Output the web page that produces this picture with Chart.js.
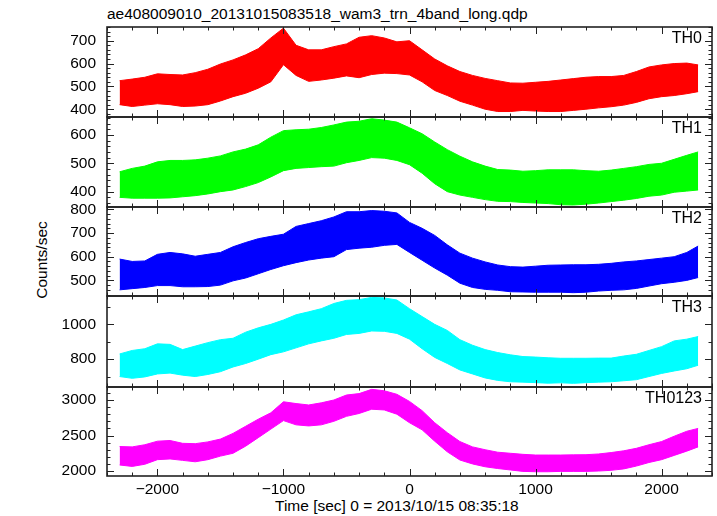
<!DOCTYPE html>
<html>
<head>
<meta charset="utf-8">
<script src="https://cdn.jsdelivr.net/npm/chart.js@4"></script>
<style>
  body { margin:0; background:#fff; width:717px; height:516px; position:relative; overflow:hidden;
         font-family:"Liberation Sans", Arial, sans-serif; color:#000; }
  canvas { position:absolute; left:0; }
  .t { position:absolute; white-space:nowrap; font-size:15.5px; line-height:15.5px; }
  .lab { position:absolute; white-space:nowrap; font-size:16px; line-height:16px; right:15px; }
</style>
</head>
<body>
<div class="t" style="left:107px;top:6px">ae408009010_20131015083518_wam3_trn_4band_long.qdp</div>
<div class="t" style="left:41.5px;top:260px;transform:translate(-50%,-50%) rotate(-90deg)">Counts/sec</div>
<div class="t" style="left:275px;top:498px">Time [sec] 0 = 2013/10/15 08:35:18</div>

<script>
// time bins (sec from 2013/10/15 08:35:18), envelope of each light curve
const times = [-2300,-2200,-2100,-2000,-1900,-1800,-1700,-1600,-1500,-1400,-1300,-1200,-1100,-1000,
  -900,-800,-700,-600,-500,-400,-300,-200,-100,0,100,200,300,400,500,600,700,800,900,1000,
  1100,1200,1300,1400,1500,1600,1700,1800,1900,2000,2100,2200,2290];

const th0Hi = [525,532,540,555,552,550,560,575,598,616,638,665,712,755,680,660,660,674,686,715,
  722,712,695,700,660,620,590,565,548,535,525,515,514,518,522,528,534,540,543,543,548,565,585,594,600,602,594];
const th0Lo = [420,412,418,424,420,412,414,420,436,455,470,492,520,595,548,522,528,536,546,538,
  552,558,556,550,520,482,460,435,418,400,390,390,395,392,390,390,395,400,406,411,418,430,446,455,460,468,477];

const th1Hi = [470,482,490,505,510,510,512,518,526,540,550,565,592,615,618,620,626,635,645,648,
  657,652,645,625,604,575,548,525,505,490,478,476,472,474,477,477,477,474,472,476,482,488,496,500,514,528,540];
const th1Lo = [380,377,377,377,378,382,386,392,400,406,418,432,452,474,482,485,488,490,502,510,
  520,518,510,495,465,428,400,388,380,372,366,365,362,360,358,354,353,356,360,365,370,376,384,388,398,402,406];

const th2Hi = [590,580,582,610,618,612,602,610,618,642,660,676,686,695,728,740,752,768,790,790,
  795,792,785,745,720,690,650,615,594,578,565,558,556,560,564,565,566,566,568,572,578,582,588,594,600,618,645];
const th2Lo = [460,465,470,478,478,473,473,474,480,498,510,528,546,562,575,586,594,600,630,636,
  640,648,652,618,585,552,522,488,470,462,458,452,451,450,450,450,448,450,455,458,460,466,476,486,492,500,512];

const th3Hi = [830,850,860,888,885,855,875,895,912,920,955,980,1000,1025,1055,1072,1090,1120,1138,1142,
  1155,1152,1140,1090,1045,1000,965,912,880,855,838,825,815,812,808,805,805,805,806,806,818,828,850,872,905,915,930];
const th3Lo = [700,690,698,715,720,708,700,712,728,755,775,800,826,842,865,888,905,920,942,948,
  962,960,948,915,860,810,775,738,715,692,678,670,668,665,662,664,661,665,668,670,676,682,700,718,732,745,765];

const thAllHi = [2345,2340,2370,2420,2430,2390,2385,2410,2450,2530,2630,2730,2820,2975,2950,2930,2960,3000,3070,3090,
  3150,3130,3080,2980,2850,2680,2540,2415,2340,2300,2265,2250,2235,2225,2225,2225,2228,2230,2240,2260,2285,2320,2370,2415,2490,2560,2600];
const thAllLo = [2085,2065,2095,2160,2170,2150,2130,2160,2210,2250,2350,2470,2590,2710,2650,2635,2650,2700,2770,2810,
  2870,2860,2800,2680,2580,2420,2270,2155,2100,2060,2035,2015,1995,1990,1990,1995,1995,1995,2000,2010,2030,2070,2120,2160,2220,2280,2340];

const bandNames = ["TH0","TH1","TH2","TH3","TH0123"];
const xTicks = [-2000,-1000,0,1000,2000];
const yTicks0 = [400,500,600,700];
const yTicks1 = [400,500,600];
const yTicks2 = [500,600,700,800];
const yTicks3 = [800,1000];
const yTicks4 = [2000,2500,3000];

const FONT = "'Liberation Sans', Arial, sans-serif";

// panel layout (pixels) and axis ranges
const panels = [
  { hi: th0Hi,   lo: th0Lo,   col: "#ff0000", ticks: yTicks0, min: 366,  max: 760,  minor: 20,  top: 27,  bot: 117 },
  { hi: th1Hi,   lo: th1Lo,   col: "#00ff00", ticks: yTicks1, min: 346,  max: 663,  minor: 20,  top: 117, bot: 207 },
  { hi: th2Hi,   lo: th2Lo,   col: "#0000ff", ticks: yTicks2, min: 434,  max: 810,  minor: 20,  top: 207, bot: 296 },
  { hi: th3Hi,   lo: th3Lo,   col: "#00ffff", ticks: yTicks3, min: 640,  max: 1163, minor: 100, top: 296, bot: 387 },
  { hi: thAllHi, lo: thAllLo, col: "#ff00ff", ticks: yTicks4, min: 1930, max: 3183, minor: 100, top: 387, bot: 476 },
];

// frame + inward tick marks on all four sides
const frameTicks = {
  id: "frameTicks",
  afterDatasetsDraw(chart, args, opts) {
    const { ctx, chartArea: a, scales: { x, y } } = chart;
    ctx.save();
    ctx.strokeStyle = "#222";
    ctx.lineWidth = 1;
    const seg = (x0, y0, x1, y1) => { ctx.beginPath(); ctx.moveTo(x0, y0); ctx.lineTo(x1, y1); ctx.stroke(); };
    for (let v = -2400; v <= 2400; v += 200) {
      const px = Math.round(x.getPixelForValue(v)) + 0.5;
      const len = v % 1000 === 0 ? 7 : 3.5;
      seg(px, a.top, px, a.top + len);
      seg(px, a.bottom, px, a.bottom - len);
    }
    for (let v = Math.ceil(y.min / opts.minor) * opts.minor; v <= y.max; v += opts.minor) {
      const py = Math.round(y.getPixelForValue(v)) + 0.5;
      const len = opts.major.includes(v) ? 7 : 3.5;
      seg(a.left, py, a.left + len, py);
      seg(a.right, py, a.right - len, py);
    }
    ctx.lineWidth = 1.6;
    ctx.strokeRect(a.left, a.top, a.right - a.left, a.bottom - a.top);
    ctx.restore();
  }
};

panels.forEach((p, i) => {
  const last = i === panels.length - 1;
  const padTop = 12;
  const padBot = last ? 0 : 12;
  const h = padTop + (p.bot - p.top) + (last ? 40 : padBot);
  const cv = document.createElement("canvas");
  cv.width = 717; cv.height = h;
  cv.style.width = "717px"; cv.style.height = h + "px";
  cv.style.top = (p.top - padTop) + "px";
  document.body.appendChild(cv);

  const lab = document.createElement("div");
  lab.className = "lab";
  lab.style.top = (p.top + 2.8) + "px";
  lab.textContent = bandNames[i];
  document.body.appendChild(lab);

  new Chart(cv, {
    type: "line",
    data: {
      datasets: [
        { data: p.hi.map((v, k) => ({ x: times[k], y: v })), borderColor: p.col, backgroundColor: p.col,
          fill: "+1", borderWidth: 1, pointRadius: 0, tension: 0 },
        { data: p.lo.map((v, k) => ({ x: times[k], y: v })), borderColor: p.col,
          fill: false, borderWidth: 1, pointRadius: 0, tension: 0 }
      ]
    },
    options: {
      responsive: false,
      animation: false,
      devicePixelRatio: 1,
      layout: { padding: { left: 0, right: 5, top: padTop, bottom: padBot } },
      plugins: {
        legend: { display: false },
        tooltip: { enabled: false },
        frameTicks: { minor: p.minor, major: p.ticks }
      },
      scales: {
        x: {
          type: "linear", min: -2400, max: 2400,
          display: last,
          afterBuildTicks: s => { s.ticks = xTicks.map(v => ({ value: v })); },
          afterFit: s => {
            if (last) s.height = 40;
            s.paddingLeft = 0; s.paddingRight = 0;
          },
          grid: { display: false, drawTicks: false },
          border: { display: false },
          ticks: { padding: 4, maxRotation: 0, autoSkip: false, color: "#000",
                   font: { family: FONT, size: 15.5 },
                   callback: v => String(v).replace("-", "\u2212") }
        },
        y: {
          min: p.min, max: p.max,
          afterBuildTicks: s => { s.ticks = p.ticks.map(v => ({ value: v })); },
          afterFit: s => { s.width = 107; s.paddingTop = 0; s.paddingBottom = 0; },
          grid: { display: false, drawTicks: false },
          border: { display: false },
          ticks: { padding: 11, color: "#000", font: { family: FONT, size: 15.5 },
                   callback: v => String(v) }
        }
      }
    },
    plugins: [frameTicks]
  });
});
</script>
</body>
</html>
